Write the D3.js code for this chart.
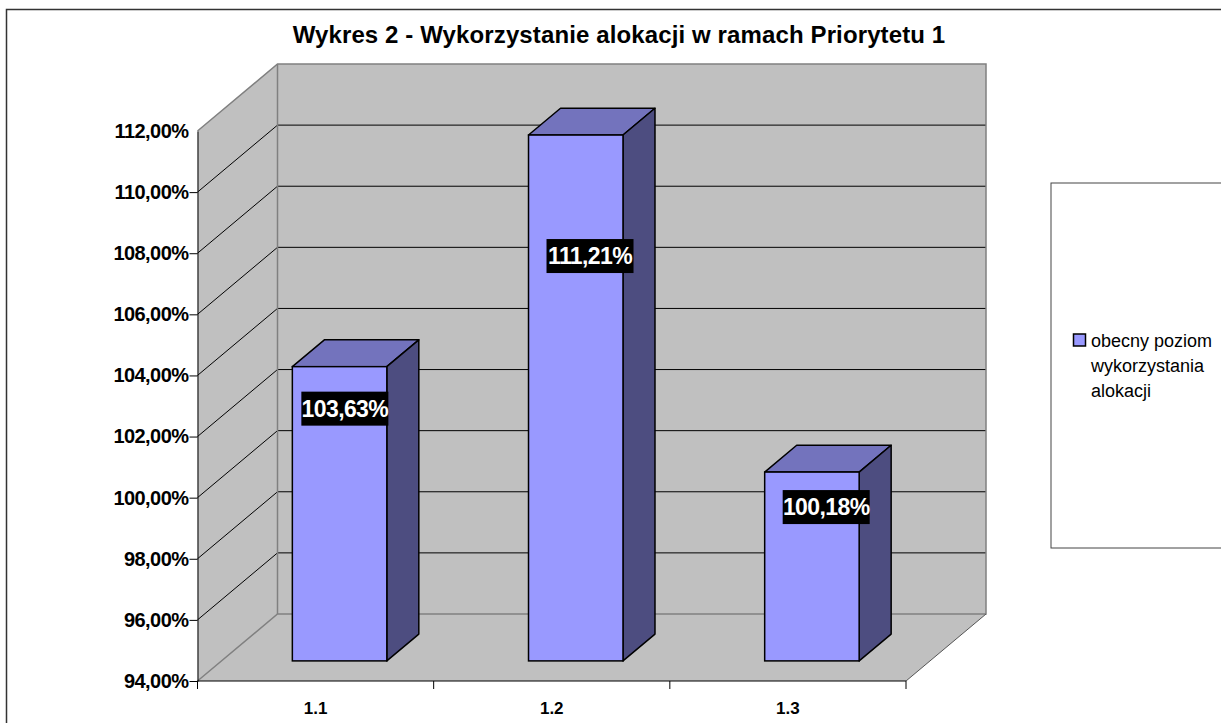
<!DOCTYPE html>
<html>
<head>
<meta charset="utf-8">
<script src="https://cdn.jsdelivr.net/npm/d3@7"></script>
<style>
  html, body { margin: 0; padding: 0; background: #fff; overflow: hidden; }
  svg { display: block; }
  text { font-family: "Liberation Sans", Arial, sans-serif; }
</style>
</head>
<body>
<svg id="chart" width="1221" height="723"></svg>
<script>
const titleText = "Wykres 2 - Wykorzystanie alokacji w ramach Priorytetu 1";
const categories = ["1.1", "1.2", "1.3"];
const values = [103.63, 111.21, 100.18];
const valueLabels = ["103,63%", "111,21%", "100,18%"];
const yTicks = [94, 96, 98, 100, 102, 104, 106, 108, 110, 112];
const legendLines = ["obecny poziom", "wykorzystania", "alokacji"];

// where the black value box sits relative to the bar's top left corner (hand placed in the original)
const labelShift = [52.5, 61.5, 61.5];
const labelDrop = [42, 121, 35];

const width = 1221;
const height = 723;
const plot = {left: 197.5, right: 906, top: 131, bottom: 681};
const depth = {dx: 80, dy: 67};

const colors = {
  wall: "#c0c0c0",
  wallEdge: "#808080",
  front: "#9999ff",
  top: "#7373bd",
  side: "#4d4d80"
};

const svg = d3.select("#chart");

const x = d3.scaleBand(categories, [plot.left, plot.right]).paddingInner(0.6).paddingOuter(0.3);
const xEdges = d3.scaleBand(categories, [plot.left, plot.right]);
const y = d3.scaleLinear([94, 112], [plot.bottom, plot.top]);

// z goes from 0 (front of the box) to 1 (back wall)
const px = (v, z) => v + depth.dx * z;
const py = (v, z) => v - depth.dy * z;
const poly = pts => pts.map(p => p.join(",")).join(" ");

// page frame, runs off the right and bottom edge in the original
svg.append("rect")
  .attr("x", 6.5).attr("y", 9.5)
  .attr("width", width + 20).attr("height", height + 20)
  .attr("fill", "#fff").attr("stroke", "#333").attr("stroke-width", 1.5);

svg.append("text")
  .attr("x", 619).attr("y", 43)
  .attr("text-anchor", "middle")
  .attr("font-size", 24).attr("font-weight", "bold")
  .attr("letter-spacing", "0.12")
  .attr("fill", "#000")
  .text(titleText);

// walls and floor
const box = svg.append("g");
box.append("polygon")
  .attr("points", poly([[plot.left, plot.bottom], [px(plot.left, 1), py(plot.bottom, 1)], [px(plot.left, 1), py(plot.top, 1)], [plot.left, plot.top]]))
  .attr("fill", colors.wall);
box.append("polygon")
  .attr("points", poly([[plot.left, plot.bottom], [plot.right, plot.bottom], [px(plot.right, 1), py(plot.bottom, 1)], [px(plot.left, 1), py(plot.bottom, 1)]]))
  .attr("fill", colors.wall);
box.append("rect")
  .attr("x", px(plot.left, 1)).attr("y", py(plot.top, 1))
  .attr("width", plot.right - plot.left).attr("height", plot.bottom - plot.top)
  .attr("fill", colors.wall);

// gridlines, skipping the base of the box and the top
const grid = yTicks.slice(1, -1);
box.selectAll(".grid-side").data(grid).join("line")
  .attr("x1", plot.left).attr("y1", d => y(d))
  .attr("x2", px(plot.left, 1)).attr("y2", d => py(y(d), 1))
  .attr("stroke", "#000").attr("stroke-width", 1);
box.selectAll(".grid-back").data(grid).join("line")
  .attr("x1", px(plot.left, 1)).attr("y1", d => py(y(d), 1))
  .attr("x2", px(plot.right, 1)).attr("y2", d => py(y(d), 1))
  .attr("stroke", "#000").attr("stroke-width", 1);

// grey wall edges
box.append("polyline")
  .attr("points", poly([[plot.left, plot.top], [px(plot.left, 1), py(plot.top, 1)], [px(plot.right, 1), py(plot.top, 1)], [px(plot.right, 1), py(plot.bottom, 1)], [px(plot.left, 1), py(plot.bottom, 1)], [plot.left, plot.bottom]]))
  .attr("fill", "none").attr("stroke", colors.wallEdge).attr("stroke-width", 1.5);
box.append("line")
  .attr("x1", px(plot.left, 1)).attr("y1", py(plot.top, 1))
  .attr("x2", px(plot.left, 1)).attr("y2", py(plot.bottom, 1))
  .attr("stroke", colors.wallEdge).attr("stroke-width", 1.5);
box.append("line")
  .attr("x1", plot.right).attr("y1", plot.bottom)
  .attr("x2", px(plot.right, 1)).attr("y2", py(plot.bottom, 1))
  .attr("stroke", "#555").attr("stroke-width", 1);

// bars sit in the middle of the depth, from z .3 to z .7
const zFront = 0.3;
const zBack = 0.7;
const bars = svg.append("g").selectAll("g").data(values).join("g");
const barX0 = (d, i) => px(x(categories[i]), zFront);
const barX1 = (d, i) => barX0(d, i) + x.bandwidth();
const d2 = (zBack - zFront);

bars.append("polygon")
  .attr("points", (d, i) => {
    const t = py(y(d), zFront);
    return poly([[barX0(d, i), t], [barX1(d, i), t], [barX1(d, i) + depth.dx * d2, t - depth.dy * d2], [barX0(d, i) + depth.dx * d2, t - depth.dy * d2]]);
  })
  .attr("fill", colors.top).attr("stroke", "#000").attr("stroke-width", 1.5).attr("stroke-linejoin", "round");
bars.append("polygon")
  .attr("points", (d, i) => {
    const t = py(y(d), zFront);
    const b = py(y(94), zFront);
    return poly([[barX1(d, i), t], [barX1(d, i) + depth.dx * d2, t - depth.dy * d2], [barX1(d, i) + depth.dx * d2, b - depth.dy * d2], [barX1(d, i), b]]);
  })
  .attr("fill", colors.side).attr("stroke", "#000").attr("stroke-width", 1.5).attr("stroke-linejoin", "round");
bars.append("rect")
  .attr("x", barX0)
  .attr("y", d => py(y(d), zFront))
  .attr("width", x.bandwidth())
  .attr("height", d => y(94) - y(d))
  .attr("fill", colors.front).attr("stroke", "#000").attr("stroke-width", 1.5);

// axes
const fmt = d3.formatLocale({decimal: ",", thousands: " ", grouping: [3], currency: ["", ""]}).format(".2f");
const yAxis = svg.append("g")
  .attr("transform", `translate(${plot.left},0)`)
  .call(d3.axisLeft(y).tickValues(yTicks).tickSizeInner(8).tickSizeOuter(0).tickPadding(1).tickFormat(d => fmt(d) + "%"));
yAxis.select(".domain").attr("stroke", "#000");
yAxis.selectAll(".tick text").attr("font-size", 20).attr("font-weight", "bold").attr("fill", "#000")
  .attr("letter-spacing", "-0.55").attr("font-family", "Liberation Sans");
yAxis.selectAll(".tick").filter(d => d === 112).select("line").remove();

const xAxis = svg.append("g")
  .attr("transform", `translate(0,${plot.bottom})`)
  .call(d3.axisBottom(xEdges).tickSize(0).tickPadding(21));
xAxis.select(".domain").remove();
xAxis.selectAll(".tick text").attr("font-size", 17).attr("font-weight", "bold").attr("fill", "#000")
  .attr("font-family", "Liberation Sans");
svg.append("line")
  .attr("x1", plot.left).attr("x2", plot.right)
  .attr("y1", plot.bottom).attr("y2", plot.bottom)
  .attr("stroke", "#000");
svg.append("g").selectAll("line").data([0, 1, 2, 3]).join("line")
  .attr("x1", i => plot.left + i * xEdges.step()).attr("x2", i => plot.left + i * xEdges.step())
  .attr("y1", plot.bottom).attr("y2", plot.bottom + 8)
  .attr("stroke", "#000");

// value boxes
const labels = svg.append("g").selectAll("g").data(values).join("g")
  .attr("transform", (d, i) => `translate(${barX0(d, i) + labelShift[i]},${py(y(d), zFront) + labelDrop[i]})`);
labels.append("rect")
  .attr("x", -43.5).attr("y", -17).attr("width", 87).attr("height", 34).attr("fill", "#000");
labels.append("text")
  .attr("text-anchor", "middle").attr("y", 8)
  .attr("font-size", 23).attr("font-weight", "bold").attr("fill", "#fff")
  .attr("letter-spacing", "-0.6")
  .text((d, i) => valueLabels[i]);

// legend
svg.append("rect")
  .attr("x", 1051).attr("y", 183)
  .attr("width", 200).attr("height", 365)
  .attr("fill", "#fff").attr("stroke", "#444").attr("stroke-width", 1);
svg.append("rect")
  .attr("x", 1073.5).attr("y", 334)
  .attr("width", 12).attr("height", 12)
  .attr("fill", colors.front).attr("stroke", "#000").attr("stroke-width", 1.5);
svg.append("g").selectAll("text").data(legendLines).join("text")
  .attr("x", 1091).attr("y", (d, i) => 347 + i * 25)
  .attr("font-size", 18).attr("fill", "#000")
  .text(d => d);
</script>
</body>
</html>
